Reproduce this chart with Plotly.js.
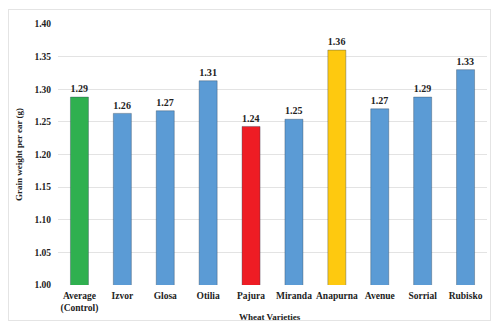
<!DOCTYPE html>
<html><head><meta charset="utf-8">
<script src="https://cdn.plot.ly/plotly-3.0.1.min.js"></script>
<style>html,body{margin:0;padding:0;background:#fff;}#c{width:494px;height:325px;}
#frame{position:absolute;left:8px;top:9px;width:481px;height:310px;border:1px solid #e4e4e4;pointer-events:none;}</style>
</head><body><div id="c"></div><div id="frame"></div>
<script>
var varieties = ["Average<br>(Control)", "Izvor", "Glosa", "Otilia", "Pajura", "Miranda", "Anapurna", "Avenue", "Sorrial", "Rubisko"];
var grainWeight = [1.288, 1.263, 1.267, 1.313, 1.243, 1.254, 1.360, 1.270, 1.288, 1.330];
var barColors = ["#2fb04f", "#5b9bd5", "#5b9bd5", "#5b9bd5", "#ee1c24", "#5b9bd5", "#fec90f", "#5b9bd5", "#5b9bd5", "#5b9bd5"];
var yTicks = [1.00, 1.05, 1.10, 1.15, 1.20, 1.25, 1.30, 1.35, 1.40];

var font = "Times New Roman, Liberation Serif, DejaVu Serif, serif";
var trace = {
  type: "bar", x: varieties.map(function(v){return "<b>"+v+"</b>";}), y: grainWeight,
  marker: {color: barColors, line: {color: "rgba(40,60,80,0.35)", width: 1}},
  texttemplate: "<b>%{y:.2f}</b>", textposition: "outside", cliponaxis: false,
  textfont: {family: font, size: 11, color: "#222"},
  hoverinfo: "none"
};
var layout = {
  width: 494, height: 325,
  margin: {l: 58, r: 7, t: 24, b: 40},
  paper_bgcolor: "#fff", plot_bgcolor: "#fff",
  bargap: 0.58, showlegend: false,
  font: {family: font, color: "#222"},
  xaxis: {tickfont: {family: font, size: 9.5, color: "#222"}, showline: false, ticks: "", ticklabelstandoff: 3},
  yaxis: {range: [1.0, 1.4], tickvals: yTicks, ticktext: yTicks.map(function(v){return "<b>"+v.toFixed(2)+"</b>";}),
    tickfont: {family: font, size: 9.5, color: "#222"}, gridcolor: "#e3e3e3", gridwidth: 1,
    zeroline: false, showline: false, ticks: "", ticklabelstandoff: 6,
    title: {text: "<b>Grain weight per ear (g)</b>", font: {family: font, size: 9, color: "#222"}, standoff: 10}},
  annotations: [{text: "<b>Wheat Varieties</b>", xref: "paper", yref: "paper", x: 0.495, y: -0.122,
    xanchor: "center", yanchor: "middle", showarrow: false, font: {family: font, size: 9, color: "#222"}}]
};
Plotly.newPlot("c", [trace], layout, {displayModeBar: false, staticPlot: true});
</script></body></html>
